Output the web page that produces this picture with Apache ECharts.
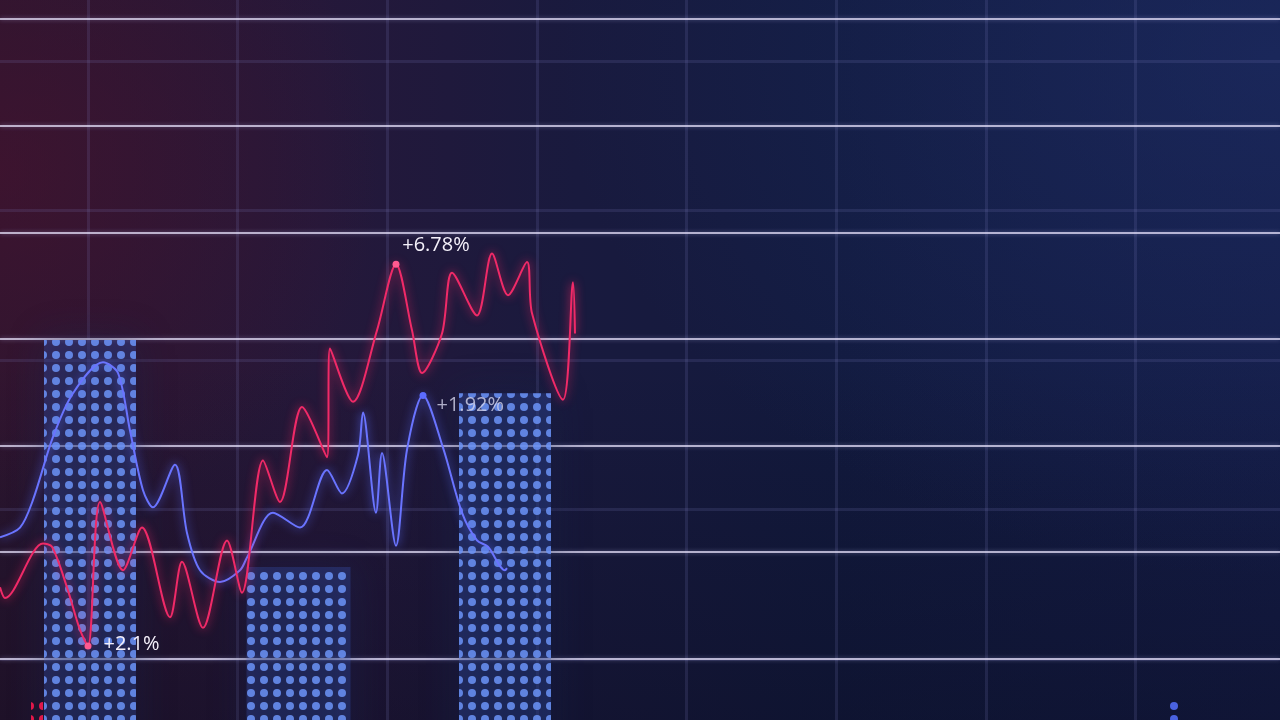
<!DOCTYPE html>
<html><head><meta charset="utf-8">
<script src="https://cdn.jsdelivr.net/npm/echarts@6/dist/echarts.min.js"></script>
<style>
html,body{margin:0;padding:0;width:1280px;height:720px;overflow:hidden;background:#131a3c;}
#chart{width:1280px;height:720px;background:
 radial-gradient(ellipse 380px 360px at 0% 24%, rgba(72,18,46,0.62), rgba(72,18,46,0) 100%),
 radial-gradient(ellipse 720px 520px at 100% 8%, rgba(32,50,110,0.5), rgba(32,50,110,0) 100%),
 linear-gradient(180deg, rgba(0,0,0,0) 50%, rgba(8,8,25,0.35) 100%),
 linear-gradient(90deg, #2a1630 0%, #25183a 25%, #191a3e 45%, #121a3e 65%, #141c46 100%);}
</style></head>
<body><div id="chart"></div>
<script>
// x: time units (0..128), y: value units (bright grid every 1)
const redPoints = [
  [0,2.67],[0.5,2.57],[4.3,3.08],[5.2,3.05],[6.7,2.67],[8.0,2.27],[8.8,2.12],
  [10.0,3.47],[12.3,2.83],[14.2,3.23],[17.0,2.39],[18.2,2.91],[20.3,2.29],
  [22.7,3.11],[24.2,2.62],[26.3,3.86],[28.0,3.47],[30.2,4.36],[32.7,3.89],
  [33.0,4.91],[35.3,4.41],[37.7,5.08],[39.6,5.70],[41.2,5.08],[42.2,4.68],
  [44.2,5.05],[45.2,5.62],[47.7,5.22],[49.2,5.80],[50.8,5.41],[52.7,5.72],
  [53.2,5.24],[56.3,4.43],[57.3,5.53],[57.5,5.05]
];
const bluePoints = [
  [0,3.14],[2.0,3.23],[3.3,3.49],[5.3,4.08],[7.3,4.49],[10.3,4.78],[11.8,4.68],
  [13.0,4.14],[14.3,3.58],[15.3,3.42],[17.5,3.82],[18.7,3.18],[20.0,2.83],
  [22.0,2.72],[24.0,2.83],[24.7,2.95],[27.3,3.37],[30.0,3.23],[32.7,3.77],
  [34.2,3.55],[35.8,3.91],[36.3,4.31],[37.6,3.37],[38.2,3.93],[39.6,3.06],
  [40.7,3.96],[42.3,4.47],[44.3,3.98],[46.2,3.37],[47.7,3.11],[48.8,3.05],
  [50.5,2.83],[50.7,2.85]
];
const barPoints = [[9.0,4.99],[50.5,4.49]];
const wideBarPoints = [[29.85,2.86]];
const smallBarPoints = [[3.7,1.62],[117.5,1.62]];
const labelTexts = ['+2.1%','+6.78%','+1.92%'];
const redLabelIdx = [6, 22];
const blueLabelIdx = [26];

const labelFont = {fontFamily:'Open Sans', fontSize:20};

function buildLine(points, labelIdx, texts, dotColor, labelCfgs){
  return points.map((p,i)=>{
    const k = labelIdx.indexOf(i);
    if (k < 0) return {value:p};
    return {value:p, symbolSize:7, itemStyle:{color:dotColor},
      label:Object.assign({show:true, formatter:texts[k]}, labelFont, labelCfgs[k])};
  });
}

const redData = buildLine(redPoints, redLabelIdx, [labelTexts[0], labelTexts[1]], '#ff5a90', [
  {position:'right', distance:12, offset:[0,-2], color:'#f4f0fa'},
  {position:'top', distance:6, offset:[40,1], color:'#f4f0fa'}
]);
const blueData = buildLine(bluePoints, blueLabelIdx, [labelTexts[2]], '#5c6cff', [
  {position:'right', distance:10, offset:[0,10], color:'rgba(215,215,238,0.78)'}
]);

const dotDecal = (c) => ({symbol:'circle', symbolSize:1, dashArrayX:[8,5], dashArrayY:[8,5], color:c});
const bigBarStyle = {color:'rgba(70,110,230,0.26)', shadowBlur:36, shadowColor:'rgba(70,120,255,0.55)',
  decal:dotDecal('rgba(108,148,248,0.85)')};

const chart = echarts.init(document.getElementById('chart'), null, {renderer:'canvas'});
const hidden = {axisLine:{show:false}, axisTick:{show:false}, axisLabel:{show:false}};
const dataX = () => Object.assign({type:'value', gridIndex:0, min:0, max:128, splitLine:{show:false}}, hidden);
chart.setOption({
  backgroundColor:'transparent',
  animation:false,
  grid:[
    {left:0, top:19, width:1280, height:853, outerBoundsMode:'none', containLabel:false},
    {left:-61.67, top:-88.5, width:1496.7, height:897, outerBoundsMode:'none', containLabel:false}
  ],
  xAxis:[
    dataX(), dataX(),
    Object.assign({type:'value', gridIndex:1, min:0, max:10, interval:1, z:0,
      splitLine:{show:true, lineStyle:{color:'rgba(130,130,200,0.16)', width:3}}}, hidden),
    dataX()
  ],
  yAxis:[
    Object.assign({type:'value', gridIndex:0, min:0, max:8, interval:1, z:1,
      splitLine:{show:true, lineStyle:{color:'rgba(236,230,255,0.72)', width:2,
        shadowBlur:4, shadowColor:'rgba(200,200,255,0.5)'}}}, hidden),
    Object.assign({type:'value', gridIndex:1, min:0, max:6, interval:1, z:0,
      splitLine:{show:true, lineStyle:{color:'rgba(130,130,200,0.16)', width:3}}}, hidden)
  ],
  series:[
    {type:'bar', xAxisIndex:0, yAxisIndex:0, barWidth:92, silent:true, z:2,
      data:barPoints, itemStyle:bigBarStyle},
    {type:'bar', xAxisIndex:3, yAxisIndex:0, barWidth:104, silent:true, z:2,
      data:wideBarPoints, itemStyle:bigBarStyle},
    {type:'bar', xAxisIndex:1, yAxisIndex:0, barWidth:12, silent:true, z:2,
      data:[
        {value:smallBarPoints[0], itemStyle:{color:'rgba(0,0,0,0)', decal:dotDecal('#e0184a')}},
        {value:smallBarPoints[1], itemStyle:{color:'rgba(0,0,0,0)', decal:dotDecal('#4a62e0')}}
      ]},
    {type:'line', xAxisIndex:0, yAxisIndex:0, data:blueData, smooth:0.3, symbol:'circle', symbolSize:0,
      silent:true, z:4,
      lineStyle:{color:'#6a74ff', width:2, shadowBlur:10, shadowColor:'rgba(90,110,255,0.9)'},
      itemStyle:{color:'#6a74ff'}},
    {type:'line', xAxisIndex:0, yAxisIndex:0, data:redData, smooth:0.3, symbol:'circle', symbolSize:0,
      silent:true, z:5,
      lineStyle:{color:'#f02a68', width:2, shadowBlur:10, shadowColor:'rgba(255,40,100,0.85)'},
      itemStyle:{color:'#f02a68'}}
  ]
});
</script>
</body></html>
